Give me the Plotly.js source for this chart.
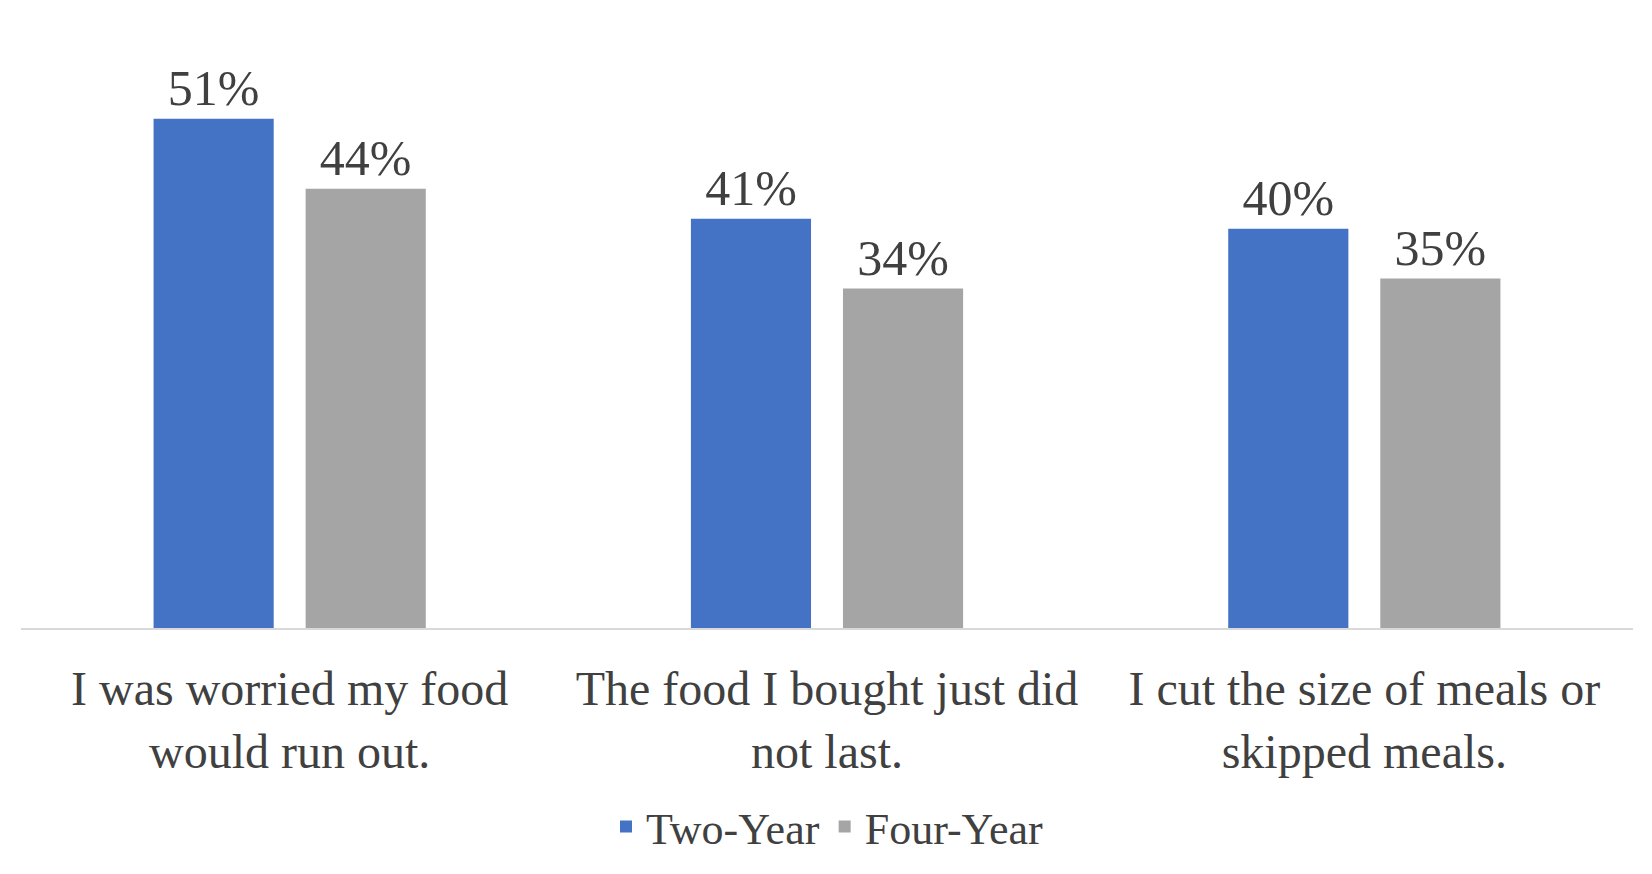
<!DOCTYPE html>
<html><head><script src="https://cdn.plot.ly/plotly-3.0.1.min.js"></script>
<style>body{margin:0}</style></head><body><div id="c" style="width:1652px;height:874px"></div>
<script>
const categories = ["I was worried my food<br>would run out.", "The food I bought just did<br>not last.", "I cut the size of meals or<br>skipped meals."];
const twoYear = [51, 41, 40];
const fourYear = [44, 34, 35];
const seriesNames = ["Two-Year", "Four-Year"];
const font = {family: "Liberation Serif, serif", color: "#404040"};
function tr(name, vals, color){
  return {type:"bar", name:name, x:categories, y:vals, marker:{color:color},
    text: vals.map(v=>v+"%"), textposition:"outside", cliponaxis:false,
    textfont:{...font, size:50}};
}
Plotly.newPlot("c", [tr(seriesNames[0], twoYear, "#4472C4"), tr(seriesNames[1], fourYear, "#A5A5A5")], {
  width:1652, height:874, margin:{l:21, r:19, t:20, b:243},
  barmode:"group", bargap:0.434, bargroupgap:0.21,
  font:{...font, size:48},
  xaxis:{showline:true, linecolor:"#d9d9d9", linewidth:1.5, tickfont:{...font, size:48}, ticks:"outside", ticklen:18, tickcolor:"rgba(0,0,0,0)"},
  yaxis:{range:[0,60.9], visible:false, showgrid:false},
  showlegend:true,
  legend:{orientation:"h", x:0.5, xanchor:"center", y:-0.327, yanchor:"middle", font:{...font, size:44}},
  plot_bgcolor:"#fff", paper_bgcolor:"#fff"
}, {displayModeBar:false});
</script></body></html>
